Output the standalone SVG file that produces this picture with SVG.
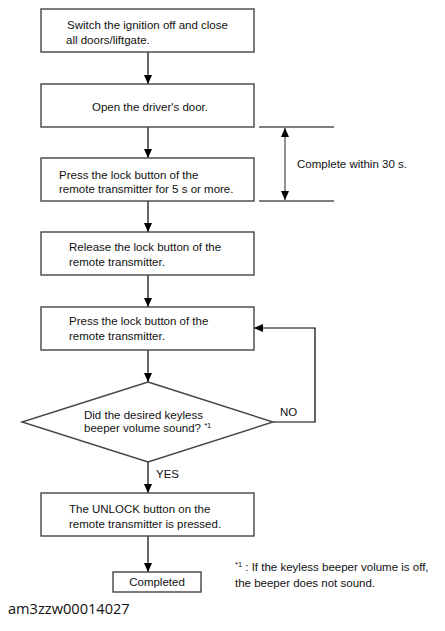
<svg xmlns="http://www.w3.org/2000/svg" width="445" height="631" viewBox="0 0 445 631">
<defs>
<marker id="ah" markerWidth="9" markerHeight="8" refX="9" refY="4" orient="auto-start-reverse" markerUnits="userSpaceOnUse" viewBox="0 0 9 8">
<path d="M0,0 L9,4 L0,8 Z" fill="#000"/>
</marker>
</defs>
<style>
.box{fill:#fff;stroke:#444;stroke-width:1.4}
.t{font-family:"Liberation Sans",Arial,sans-serif;font-size:11.5px;fill:#111}
.c{text-anchor:middle}
.ln{fill:none;stroke:#000;stroke-width:1.2}
.g{fill:none;stroke:#555;stroke-width:1.3}
.sup{font-size:7.5px}
</style>
<rect width="445" height="631" fill="#fff"/>
<g id="connectors">
<line class="ln" x1="148" y1="52" x2="148" y2="84" marker-end="url(#ah)"/>
<line class="ln" x1="148" y1="127" x2="148" y2="158" marker-end="url(#ah)"/>
<line class="ln" x1="148" y1="201" x2="148" y2="232" marker-end="url(#ah)"/>
<line class="ln" x1="148" y1="275" x2="148" y2="307" marker-end="url(#ah)"/>
<line class="ln" x1="148" y1="350" x2="148" y2="382" marker-end="url(#ah)"/>
<line class="ln" x1="148" y1="462" x2="148" y2="493" marker-end="url(#ah)"/>
<line class="ln" x1="148" y1="536" x2="148" y2="572" marker-end="url(#ah)"/>
<polyline class="ln" points="273,422 315,422 315,328 254,328" marker-end="url(#ah)"/>
<text class="t" x="280" y="416">NO</text>
<text class="t" x="156" y="478">YES</text>
</g>
<g id="timing">
<line class="g" x1="259" y1="127" x2="334" y2="127"/>
<line class="g" x1="259" y1="201" x2="334" y2="201"/>
<line class="g" x1="285" y1="128" x2="285" y2="200" marker-start="url(#ah)" marker-end="url(#ah)"/>
<text class="t" x="297" y="168">Complete within 30 s.</text>
</g>
<g id="n1">
<rect class="box" x="41" y="9" width="213" height="43"/>
<text class="t" x="67" y="29">Switch the ignition off and close</text>
<text class="t" x="66" y="43.5">all doors/liftgate.</text>
</g>
<g id="n2">
<rect class="box" x="41" y="84" width="213" height="43"/>
<text class="t c" x="150" y="111">Open the driver's door.</text>
</g>
<g id="n3">
<rect class="box" x="41" y="158" width="213" height="43"/>
<text class="t" x="59" y="178.5">Press the lock button of the</text>
<text class="t" x="59" y="192.5">remote transmitter for 5 s or more.</text>
</g>
<g id="n4">
<rect class="box" x="41" y="232" width="213" height="43"/>
<text class="t" x="69" y="251">Release the lock button of the</text>
<text class="t" x="69" y="266">remote transmitter.</text>
</g>
<g id="n5">
<rect class="box" x="41" y="307" width="213" height="43"/>
<text class="t" x="69" y="325">Press the lock button of the</text>
<text class="t" x="69" y="340">remote transmitter.</text>
</g>
<g id="n6">
<polygon class="box" points="148,382 273,422 148,462 22,422"/>
<text class="t" x="84" y="418.5">Did the desired keyless</text>
<text class="t" x="84" y="431.5">beeper volume sound? <tspan class="sup" dy="-4">*1</tspan></text>
</g>
<g id="n7">
<rect class="box" x="41" y="493" width="213" height="43"/>
<text class="t" x="69" y="512.5">The UNLOCK button on the</text>
<text class="t" x="69" y="527.5">remote transmitter is pressed.</text>
</g>
<g id="n8">
<rect class="box" x="113" y="572" width="88" height="20"/>
<text class="t c" x="157" y="586">Completed</text>
</g>
<g id="note">
<text class="t" x="235" y="571"><tspan class="sup" dy="-4">*1</tspan><tspan dy="4"> : If the keyless beeper volume is off,</tspan></text>
<text class="t" x="235" y="587">the beeper does not sound.</text>
</g>
<text x="8" y="614" font-family="'Open Sans',sans-serif" font-size="14.6" fill="#111">am3zzw00014027</text>
</svg>
